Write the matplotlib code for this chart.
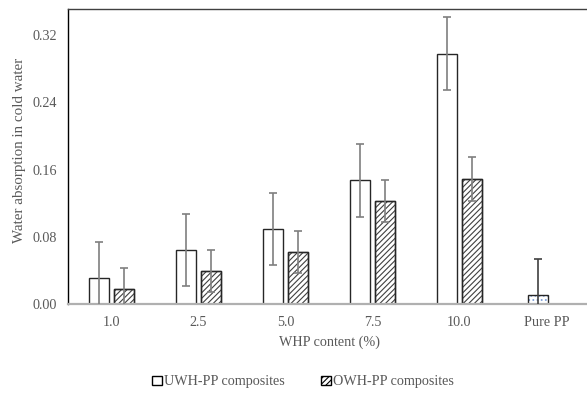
import matplotlib
matplotlib.use("Agg")
import matplotlib.pyplot as plt
import numpy as np
from matplotlib.patches import Patch

plt.rcParams['font.family'] = ['Liberation Serif', 'DejaVu Serif']
plt.rcParams['hatch.linewidth'] = 0.8

categories = ["1.0", "2.5", "5.0", "7.5", "10.0", "Pure PP"]
uwh_values = [0.031, 0.064, 0.089, 0.147, 0.298]
uwh_err = [0.043, 0.043, 0.043, 0.043, 0.043]
owh_values = [0.0175, 0.039, 0.0615, 0.123, 0.149]
owh_err = [0.025, 0.025, 0.025, 0.025, 0.026]
pp_value = [0.011]
pp_err = [0.043]
yticks = [0.00, 0.08, 0.16, 0.24, 0.32]

text_color = '#595959'
err_color = '#7f7f7f'

fig = plt.figure(figsize=(5.87, 3.93), dpi=100)
ax = fig.add_axes([68/587, (393-304)/393, (590-68)/587, (304-9)/393])

x = np.arange(len(categories))
w = 0.23
off = 0.145
xu = x[:5] - off
xo = x[:5] + off

ax.bar(xu, uwh_values, width=w, facecolor='white', edgecolor='#262626', linewidth=1.0, zorder=2)
ax.errorbar(xu, uwh_values, yerr=uwh_err, fmt='none', ecolor=err_color, elinewidth=1.2,
            capsize=3, capthick=1.2, zorder=3)

ax.bar(xo, owh_values, width=w, facecolor='white', edgecolor='#404040', linewidth=1.0,
       hatch='//////', zorder=2)
ax.bar(xo, owh_values, width=w, facecolor='none', edgecolor='#262626', linewidth=1.0, zorder=2)
ax.errorbar(xo, owh_values, yerr=owh_err, fmt='none', ecolor=err_color, elinewidth=1.2,
            capsize=3, capthick=1.2, zorder=3)

xp = [x[5] - 0.1]
ax.bar(xp, pp_value, width=w, facecolor='white', edgecolor='#7f9fd8', linewidth=0,
       hatch='....', zorder=2)
ax.bar(xp, pp_value, width=w, facecolor='none', edgecolor='#262626', linewidth=1.0, zorder=2)
ax.errorbar(xp, pp_value, yerr=pp_err, fmt='none', ecolor='#404040', elinewidth=1.2,
            capsize=3, capthick=1.2, zorder=3)

ax.set_xlim(-0.5, 5.5)
ax.set_ylim(0, 0.351)
ax.set_xticks(x)
ax.set_xticklabels(categories)
ax.set_yticks(yticks)
ax.set_yticklabels([f"{v:.2f}" for v in yticks])
ax.tick_params(axis='both', length=0, labelsize=10.2, labelcolor=text_color)
ax.tick_params(axis='x', pad=9)
ax.tick_params(axis='y', pad=8)

ax.spines['bottom'].set_color('#b0b0b0')
ax.spines['bottom'].set_linewidth(1.6)
ax.spines['left'].set_color('black')
ax.spines['left'].set_linewidth(1.0)
ax.spines['top'].set_color('#404040')
ax.spines['top'].set_linewidth(1.0)
ax.spines['right'].set_visible(False)

ax.set_xlabel("WHP content (%)", fontsize=10.2, color=text_color, labelpad=4)
fig.text(20/587, 1 - 150/393, "Water absorption in cold water", rotation=90,
         fontsize=10.8, color=text_color, ha='center', va='center')

h1 = Patch(facecolor='white', edgecolor='black', linewidth=1.0)
h2 = Patch(facecolor='white', edgecolor='black', linewidth=1.0, hatch='//////')
leg = fig.legend([h1, h2], ["UWH-PP composites", "OWH-PP composites"], ncol=2,
                 loc='center', bbox_to_anchor=(303/587, 1 - 382/393), frameon=False,
                 handlelength=0.65, handleheight=0.65, handletextpad=0.15, columnspacing=2.6,
                 fontsize=10.2)
for t in leg.get_texts():
    t.set_color(text_color)

fig.savefig("out.png", dpi=100)
